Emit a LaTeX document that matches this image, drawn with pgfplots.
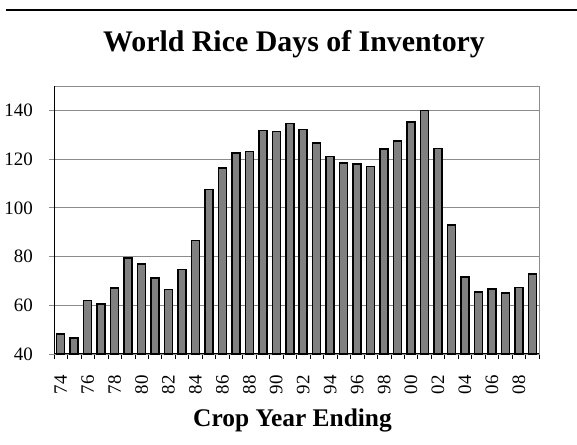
\documentclass[border=0pt]{standalone}
\usepackage{pgfplots}
\pgfplotsset{compat=1.18}
\usepackage{fontspec}
\setmainfont{Liberation Serif}
\definecolor{barfill}{RGB}{128,128,128}
\definecolor{gridc}{RGB}{140,140,140}
\pgfplotstableread{
x val
0 48.2
1 46.6
2 62.0
3 60.5
4 67.0
5 79.5
6 77.0
7 71.1
8 66.4
9 74.7
10 86.6
11 107.5
12 116.4
13 122.4
14 123.1
15 131.8
16 131.4
17 134.7
18 132.1
19 126.6
20 121.0
21 118.4
22 118.0
23 117.0
24 124.2
25 127.4
26 135.2
27 140.0
28 124.4
29 93.0
30 71.7
31 65.4
32 66.6
33 65.1
34 67.2
35 72.8
}\ricedata
\begin{document}
\begin{tikzpicture}[x=1bp,y=1bp]
\useasboundingbox (0,0) rectangle (577,445);
\draw[line width=2.2bp] (6,435) -- (577,435);
\node[anchor=base,font=\bfseries\fontsize{30}{34}\selectfont,inner sep=0] at (294,393.3) {World Rice Days of Inventory};
\node[anchor=base,font=\bfseries\fontsize{25.5}{29}\selectfont,inner sep=0] at (292.5,18.3) {Crop Year Ending};
\begin{axis}[
  at={(54bp,91bp)}, anchor=south west,
  scale only axis, width=485bp, height=268bp,
  xmin=-0.5, xmax=35.5, ymin=40, ymax=150,
  ybar, bar width=8bp,
  axis line style={gridc, line width=0.8bp},
  xtick={0,2,...,34},
  xticklabels={74,76,78,80,82,84,86,88,90,92,94,96,98,00,02,04,06,08},
  major x tick style={draw=none},
  minor xtick={-0.5,0.5,...,35.5},
  minor x tick style={black, line width=0.6bp},
  minor tick length=5bp,
  ytick={40,60,...,140},
  major y tick style={gridc, line width=0.8bp},
  major tick length=5bp,
  tick align=outside,
  tick pos=left,
  ymajorgrids,
  grid style={gridc, line width=0.8bp},
  /pgf/number format/assume math mode=true,
  ticklabel style={font=\fontsize{19}{21}\selectfont, inner sep=0pt},
  xticklabel style={rotate=90, anchor=east},
  xticklabel shift={16bp},
  yticklabel style={anchor=east, xshift=-16bp},
  clip=false,
]
\addplot[fill=barfill, draw=black, line width=1.5bp, bar shift=0pt] table[x=x,y=val] {\ricedata};
\draw[black, line width=1bp] (rel axis cs:0,0) -- (rel axis cs:0,1);
\draw[black, line width=1bp] (rel axis cs:0,0) -- (rel axis cs:1,0);
\end{axis}
\end{tikzpicture}
\end{document}
